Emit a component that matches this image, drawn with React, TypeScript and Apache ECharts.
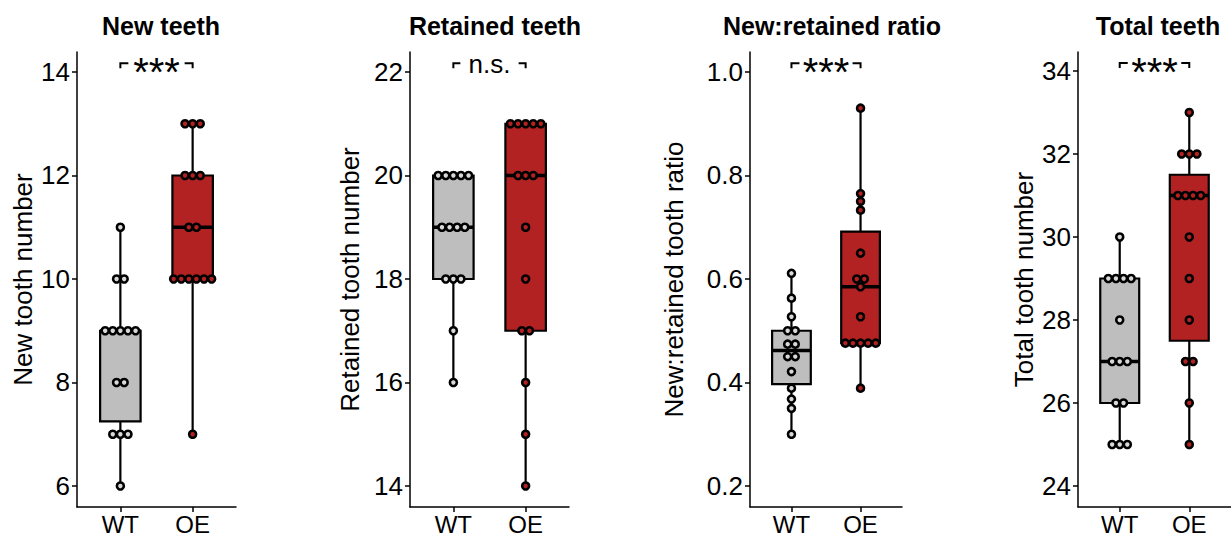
import React, { useEffect, useRef } from "react";
import * as echarts from "echarts";

const groups = ["WT", "OE"];
const newWT = [11, 10, 10, 9, 9, 9, 9, 9, 8, 8, 7, 7, 7, 6];
const newOE = [13, 13, 13, 12, 12, 12, 11, 11, 10, 10, 10, 10, 10, 10, 7];
const retWT = [20, 20, 20, 20, 20, 19, 19, 19, 19, 18, 18, 18, 17, 16];
const retOE = [21, 21, 21, 21, 21, 20, 20, 20, 19, 18, 17, 17, 16, 15, 14];
const ratioWT = [0.611, 0.563, 0.527, 0.5, 0.5, 0.474, 0.474, 0.45, 0.45, 0.421, 0.389, 0.368, 0.35, 0.3];
const ratioOE = [0.93, 0.765, 0.75, 0.733, 0.65, 0.6, 0.6, 0.585, 0.527, 0.476, 0.476, 0.476, 0.476, 0.476, 0.389];
const totWT = [30, 29, 29, 29, 29, 28, 27, 27, 27, 26, 26, 25, 25, 25];
const totOE = [33, 32, 32, 32, 31, 31, 31, 31, 30, 29, 28, 27, 27, 26, 25];

const titles = ["New teeth", "Retained teeth", "New:retained ratio", "Total teeth"];
const yNames = ["New tooth number", "Retained tooth number", "New:retained tooth ratio", "Total tooth number"];
const yTicks = [
  [6, 8, 10, 12, 14],
  [14, 16, 18, 20, 22],
  [0.2, 0.4, 0.6, 0.8, 1.0],
  [24, 26, 28, 30, 32, 34],
];
const signifLabels = ["***", "n.s.", "***", "***"];
const signifY = [14.17, 22.17, 1.017, 34.19];
const panelData = [
  [newWT, newOE],
  [retWT, retOE],
  [ratioWT, ratioOE],
  [totWT, totOE],
];

const FONT = "'Liberation Sans', Arial, Helvetica, sans-serif";
const boxFill = ["#BEBEBE", "#B22222"];
const dotFill = ["#D9D9D9", "#B22222"];

const layout = [
  { left: 77, width: 159, yMin: 5.594, yMax: 14.386, nameGap: 41, titleX: 161, dec: 0 },
  { left: 410, width: 159, yMin: 13.594, yMax: 22.386, nameGap: 47, titleX: 495, dec: 0 },
  { left: 750, width: 152, yMin: 0.1594, yMax: 1.0386, nameGap: 63, titleX: 832, dec: 1 },
  { left: 1078, width: 159, yMin: 23.494, yMax: 34.458, nameGap: 41, titleX: 1158, dec: 0 },
];

function quantile(s: number[], p: number) {
  const h = (s.length - 1) * p;
  const lo = Math.floor(h);
  const hi = Math.ceil(h);
  return s[lo] + (h - lo) * (s[hi] - s[lo]);
}

function boxStats(vals: number[]) {
  const s = [...vals].sort((a, b) => a - b);
  const q1 = quantile(s, 0.25);
  const med = quantile(s, 0.5);
  const q3 = quantile(s, 0.75);
  const iqr = q3 - q1;
  const lo = s.filter((v) => v >= q1 - 1.5 * iqr)[0];
  const inHi = s.filter((v) => v <= q3 + 1.5 * iqr);
  const hi = inHi[inHi.length - 1];
  return [lo, q1, med, q3, hi];
}

function dotItems(vals: number[], x: number) {
  const counts = new Map<number, number>();
  vals.forEach((v) => counts.set(v, (counts.get(v) || 0) + 1));
  const items: any[] = [];
  const spacing = 7.6;
  counts.forEach((k, v) => {
    for (let i = 0; i < k; i++) {
      items.push({ value: [x, v], symbolOffset: [(i - (k - 1) / 2) * spacing, 0] });
    }
  });
  return items;
}

function buildOption() {
  const grids: any[] = [];
  const xAxes: any[] = [];
  const yAxes: any[] = [];
  const series: any[] = [];
  const graphics: any[] = [];

  layout.forEach((L, i) => {
    grids.push({ left: L.left, width: L.width, top: 52, height: 455, containLabel: false });
    xAxes.push({
      type: "value",
      gridIndex: i,
      min: 0.4,
      max: 2.6,
      axisLine: { show: true, lineStyle: { color: "#000", width: 1.5 } },
      axisTick: { show: true, length: 5, customValues: [1, 2], lineStyle: { color: "#000", width: 1.5 } },
      axisLabel: {
        customValues: [1, 2],
        formatter: (v: number) => groups[Math.round(v) - 1] || "",
        color: "#000",
        fontSize: 24,
        lineHeight: 22,
        fontFamily: FONT,
        margin: 6,
      },
      splitLine: { show: false },
    });
    yAxes.push({
      type: "value",
      gridIndex: i,
      min: L.yMin,
      max: L.yMax,
      name: yNames[i],
      nameLocation: "middle",
      nameRotate: 90,
      nameGap: L.nameGap,
      nameTextStyle: { color: "#000", fontSize: 26, fontFamily: FONT },
      axisLine: { show: true, lineStyle: { color: "#000", width: 1.5 } },
      axisTick: { show: true, length: 5, customValues: yTicks[i], lineStyle: { color: "#000", width: 1.5 } },
      axisLabel: {
        customValues: yTicks[i],
        formatter: (v: number) => v.toFixed(L.dec),
        color: "#000",
        fontSize: 26,
        fontFamily: FONT,
        margin: 7,
      },
      splitLine: { show: false },
    });

    const [a, b] = panelData[i];
    series.push({
      type: "custom",
      xAxisIndex: i,
      yAxisIndex: i,
      z: 2,
      data: [
        [1, ...boxStats(a), 0],
        [2, ...boxStats(b), 1],
      ],
      renderItem: (params: any, api: any) => {
        const x = api.value(0);
        const pMin = api.coord([x, api.value(1)]);
        const pQ1 = api.coord([x, api.value(2)]);
        const pMed = api.coord([x, api.value(3)]);
        const pQ3 = api.coord([x, api.value(4)]);
        const pMax = api.coord([x, api.value(5)]);
        const g = api.value(6);
        const bw = api.size([0.56, 0])[0];
        const cx = pMin[0];
        const ls = { stroke: "#000", lineWidth: 2.2 };
        return {
          type: "group",
          children: [
            { type: "line", shape: { x1: cx, y1: pMin[1], x2: cx, y2: pQ1[1] }, style: ls },
            { type: "line", shape: { x1: cx, y1: pQ3[1], x2: cx, y2: pMax[1] }, style: ls },
            {
              type: "rect",
              shape: { x: cx - bw / 2, y: pQ3[1], width: bw, height: pQ1[1] - pQ3[1] },
              style: { fill: boxFill[g], stroke: "#000", lineWidth: 2.2 },
            },
            {
              type: "line",
              shape: { x1: cx - bw / 2, y1: pMed[1], x2: cx + bw / 2, y2: pMed[1] },
              style: { stroke: "#000", lineWidth: 3.5 },
            },
          ],
        };
      },
    });
    [a, b].forEach((vals, gi) => {
      series.push({
        type: "scatter",
        xAxisIndex: i,
        yAxisIndex: i,
        z: 3,
        symbol: "circle",
        symbolSize: 7,
        itemStyle: { color: dotFill[gi], borderColor: "#000", borderWidth: 2.6, opacity: 1 },
        data: dotItems(vals, gi + 1),
      });
    });
    const lab = signifLabels[i];
    series.push({
      type: "custom",
      xAxisIndex: i,
      yAxisIndex: i,
      z: 4,
      data: [[1, 2, signifY[i]]],
      renderItem: (params: any, api: any) => {
        const p1 = api.coord([api.value(0), api.value(2)]);
        const p2 = api.coord([api.value(1), api.value(2)]);
        const isStar = lab === "***";
        const seg = isStar ? 8 : 7;
        const tip = 5;
        const ls = { stroke: "#000", lineWidth: 2 };
        const mx = (p1[0] + p2[0]) / 2;
        return {
          type: "group",
          children: [
            { type: "polyline", shape: { points: [[p1[0], p1[1] + tip], [p1[0], p1[1]], [p1[0] + seg, p1[1]]] }, style: { ...ls, fill: "none" } },
            { type: "polyline", shape: { points: [[p2[0] - seg, p2[1]], [p2[0], p2[1]], [p2[0], p2[1] + tip]] }, style: { ...ls, fill: "none" } },
            {
              type: "text",
              x: mx,
              y: isStar ? p1[1] + 9 : p1[1] + 1,
              style: {
                text: lab,
                fill: "#000",
                font: isStar ? `40px ${FONT}` : `26px ${FONT}`,
                textAlign: "center",
                textVerticalAlign: "middle",
              },
            },
          ],
        };
      },
    });

    graphics.push({
      type: "text",
      x: L.titleX,
      y: 26,
      style: {
        text: titles[i],
        fill: "#000",
        font: `bold 25px ${FONT}`,
        textAlign: "center",
        textVerticalAlign: "middle",
      },
    });
  });

  return {
    animation: false,
    backgroundColor: "#fff",
    grid: grids,
    xAxis: xAxes,
    yAxis: yAxes,
    series,
    graphic: graphics,
  };
}

export default function App() {
  const ref = useRef<HTMLDivElement>(null);
  useEffect(() => {
    if (!ref.current) return;
    const chart = echarts.init(ref.current, undefined, { renderer: "svg" });
    chart.setOption(buildOption() as any);
    return () => chart.dispose();
  }, []);
  return (
    <div
      ref={ref}
      style={{ position: "fixed", left: 0, top: 0, width: 1231, height: 536, background: "#fff" }}
    />
  );
}
